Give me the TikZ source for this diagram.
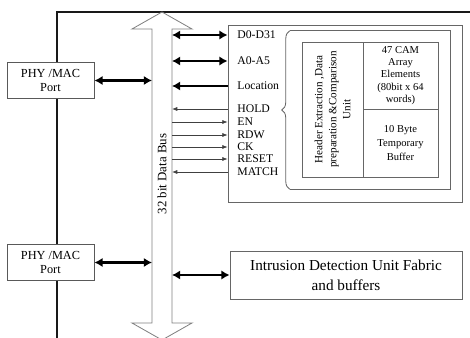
\documentclass[tikz,border=0pt]{standalone}
\usepackage{fontspec}
\setmainfont{Liberation Serif}
\usetikzlibrary{arrows.meta, positioning, decorations.pathreplacing}
\tikzset{
    box_port/.style={
        rectangle, draw=black!65, line width=0.8pt, fill=white,
        minimum width=2.61cm, minimum height=1.08cm, inner sep=1pt,
        align=center, font=\fontsize{10.5}{12}\selectfont
    },
    box_frame/.style={
        rectangle, draw=black!60, line width=0.7pt, fill=white, inner sep=1pt
    },
    box_cell/.style={
        rectangle, draw=black!60, line width=0.7pt, inner sep=1pt,
        align=center, font=\fontsize{9}{10.5}\selectfont
    },
    box_line/.style={draw=black!60, line width=0.7pt},
    sig_lbl/.style={anchor=west, inner sep=1pt, font=\fontsize{10}{11}\selectfont},
    bus_arrow/.style={
        {Latex[length=7pt,width=8pt]}-{Latex[length=7pt,width=8pt]}, line width=2.2pt
    },
    in_arrow/.style={-{Latex[length=7pt,width=8pt]}, line width=2.2pt},
    sig_arrow/.style={-{Latex[length=4.5pt,width=3.5pt]}, line width=0.6pt, draw=black!75},
    frame_line/.style={line width=1.6pt, draw=black!90},
    bus_outline/.style={draw=black!50, line width=0.7pt}
}
\begin{document}
\begin{tikzpicture}[x=0.03cm, y=-0.03cm]
    \useasboundingbox (0,0) rectangle (470,338);

    % --- Outer frame ---
    \draw[frame_line] (470,12) -- (57,12) -- (57,338);

    % --- 32 bit Data Bus ---
    \draw[bus_outline] (162,12) -- (192,29) -- (172,29) -- (172,323) -- (192,323) -- (162,340)
        -- (132,323) -- (152,323) -- (152,29) -- (132,29) -- cycle;
    \coordinate (bus_l) at (152,0);
    \coordinate (bus_r) at (172,0);
    \node[rotate=90, font=\fontsize{11}{12}\selectfont] (bus_lbl) at (162,174) {32 bit Data Bus};

    % --- PHY/MAC ports ---
    \node[box_port] (phy_top) at (50.5,80.5) {PHY /MAC\\Port};
    \node[box_port] (phy_bot) at (50.5,262.5) {PHY /MAC\\Port};

    % --- CAM unit ---
    \node[box_frame, minimum width=7.02cm, minimum height=5.31cm] (ctl) at (345,113.5) {};
    \node[minimum width=4.8cm, minimum height=4.74cm, inner sep=0pt] (wrap) at (370,110) {};
    \draw[box_line] (wrap.south west) -- (wrap.south east) -- (wrap.north east) -- (wrap.north west);
    \draw[box_line, decorate, decoration={brace, amplitude=0.24cm}] (wrap.south west) -- (wrap.north west);

    \node[box_cell, rotate=90, minimum width=4.05cm, minimum height=1.83cm, font=\fontsize{9.5}{12}\selectfont] (hdr) at (332.5,109.5)
        {Header Extraction ,Data\\preparation \&Comparison\\Unit};
    \node[box_cell, minimum width=2.25cm, minimum height=2.01cm] (cam) at (400.5,75.5)
        {47 CAM\\Array\\Elements\\(80bit x 64\\words)};
    \node[box_cell, minimum width=2.25cm, minimum height=2.04cm, font=\fontsize{9}{12}\selectfont] (buf) at (400.5,143)
        {10 Byte\\Temporary\\Buffer};

    % --- Signal labels ---
    \node[sig_lbl] (d0) at (236,35) {D0-D31};
    \node[sig_lbl] (a0) at (236,61) {A0-A5};
    \node[sig_lbl] (loc) at (236,86) {Location};
    \node[sig_lbl] (hold) at (236,109) {HOLD};
    \node[sig_lbl] (en) at (236,122) {EN};
    \node[sig_lbl] (rdw) at (236,135) {RDW};
    \node[sig_lbl] (ck) at (236,147) {CK};
    \node[sig_lbl] (rst) at (236,159) {RESET};
    \node[sig_lbl] (match) at (236,172) {MATCH};

    % --- Intrusion detection unit ---
    \node[box_frame, minimum width=6.96cm, minimum height=1.44cm, align=center, font=\fontsize{13}{17}\selectfont] (ids) at (346,275)
        {Intrusion Detection Unit Fabric\\and buffers};

    % --- Bus arrows ---
    \draw[bus_arrow] (bus_r |- d0) -- (ctl.west |- d0);
    \draw[bus_arrow] (bus_r |- a0) -- (ctl.west |- a0);
    \draw[in_arrow] (ctl.west |- loc) -- (bus_r |- loc);
    \draw[sig_arrow] (ctl.west |- hold) -- (bus_r |- hold);
    \foreach \s in {en, rdw, ck, rst}
        \draw[sig_arrow] (bus_r |- \s) -- (ctl.west |- \s);
    \draw[sig_arrow] (ctl.west |- match) -- (bus_r |- match);

    \draw[bus_arrow] (phy_top.east) -- (bus_l |- phy_top.east);
    \draw[bus_arrow] (phy_bot.east) -- (bus_l |- phy_bot.east);
    \draw[bus_arrow] (bus_r |- ids.west) -- (ids.west);

\end{tikzpicture}
\end{document}
